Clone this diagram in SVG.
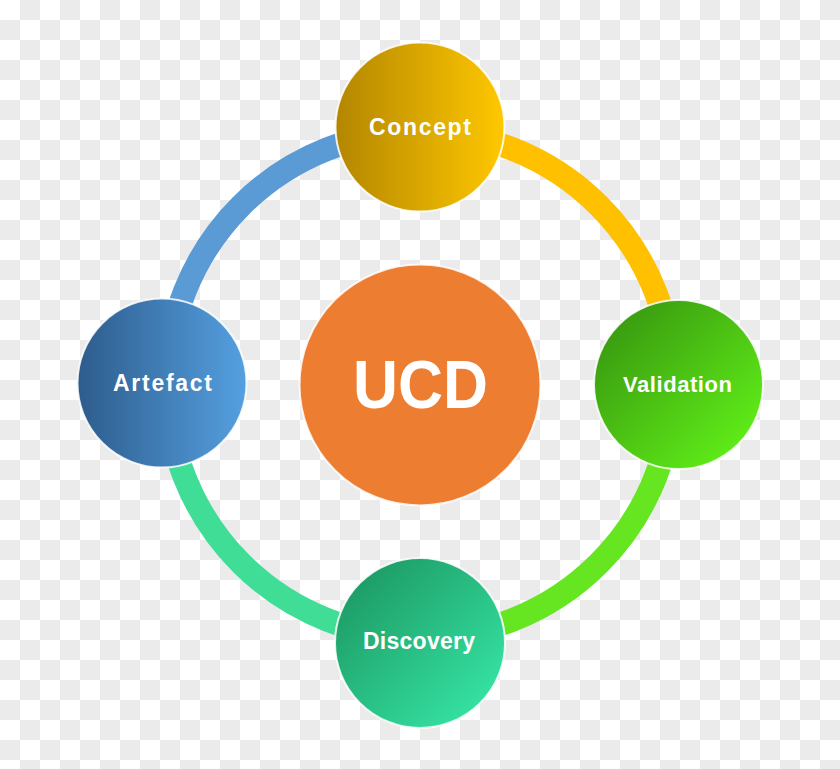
<svg xmlns="http://www.w3.org/2000/svg" width="840" height="769" viewBox="0 0 840 769">
  <defs>
    <pattern id="checker" x="0" y="0" width="40" height="40" patternUnits="userSpaceOnUse">
      <rect width="40" height="40" fill="#ffffff"/>
      <rect x="20" y="0" width="20" height="20" fill="#ebebeb"/>
      <rect x="0" y="20" width="20" height="20" fill="#ebebeb"/>
    </pattern>
    <linearGradient id="gConcept" x1="0" y1="0" x2="1" y2="0">
      <stop offset="0" stop-color="#B38600"/>
      <stop offset="1" stop-color="#FFC800"/>
    </linearGradient>
    <linearGradient id="gValidation" x1="0.15" y1="0.15" x2="0.85" y2="0.85">
      <stop offset="0" stop-color="#3B9E10"/>
      <stop offset="1" stop-color="#5EEA18"/>
    </linearGradient>
    <linearGradient id="gArtefact" x1="0" y1="0" x2="1" y2="0">
      <stop offset="0" stop-color="#2D5C8C"/>
      <stop offset="1" stop-color="#55A0E0"/>
    </linearGradient>
    <linearGradient id="gDiscovery" x1="0.15" y1="0.15" x2="0.85" y2="0.85">
      <stop offset="0" stop-color="#1E9E68"/>
      <stop offset="1" stop-color="#34E0A0"/>
    </linearGradient>
  </defs>
  <style>
    .arc { fill: none; stroke-width: 23.5; }
    .node { stroke: #ffffff; stroke-opacity: 0.85; stroke-width: 2; }
    .label { font-family: "Liberation Sans", Arial, sans-serif; font-weight: bold; fill: #ffffff; text-anchor: middle; }
  </style>
  <rect width="840" height="769" fill="url(#checker)"/>
  <g id="connectors">
    <path class="arc" stroke="#5B9BD5" d="M167,384.5 A253,253 0 0 1 420,131.5"/>
    <path class="arc" stroke="#FFC000" d="M420,131.5 A253,253 0 0 1 673,384.5"/>
    <path class="arc" stroke="#66E620" d="M673,384.5 A253,253 0 0 1 420,637.5"/>
    <path class="arc" stroke="#40DD97" d="M420,637.5 A253,253 0 0 1 167,384.5"/>
  </g>
  <g id="ucd">
    <circle class="node" cx="420" cy="385" r="120.5" fill="#ED7D31"/>
    <text class="label" x="420.5" y="408" font-size="68" textLength="135" lengthAdjust="spacingAndGlyphs">UCD</text>
  </g>
  <g id="concept">
    <circle class="node" cx="420" cy="127" r="84.5" fill="url(#gConcept)"/>
    <text class="label" x="420" y="135" font-size="23" textLength="102">Concept</text>
  </g>
  <g id="validation">
    <circle class="node" cx="678.5" cy="384.5" r="84.5" fill="url(#gValidation)"/>
    <text class="label" x="677.5" y="392" font-size="22" textLength="109">Validation</text>
  </g>
  <g id="artefact">
    <circle class="node" cx="162" cy="383" r="84.5" fill="url(#gArtefact)"/>
    <text class="label" x="162.5" y="391" font-size="23" textLength="99">Artefact</text>
  </g>
  <g id="discovery">
    <circle class="node" cx="420" cy="643" r="85" fill="url(#gDiscovery)"/>
    <text class="label" x="419" y="649" font-size="23" textLength="112">Discovery</text>
  </g>
</svg>
